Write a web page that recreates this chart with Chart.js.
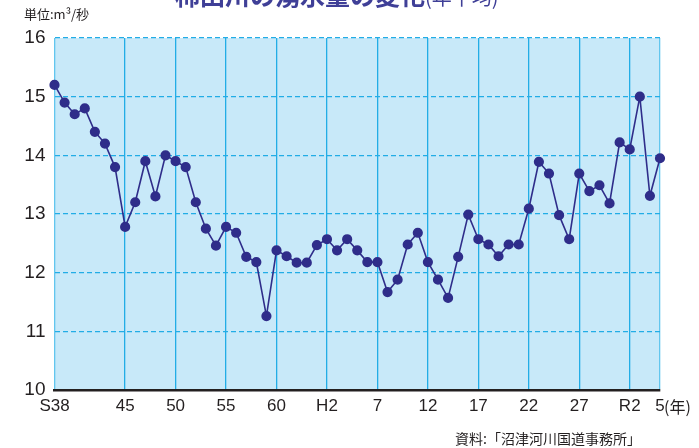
<!DOCTYPE html>
<html>
<head>
<meta charset="utf-8">
<script src="https://cdn.jsdelivr.net/npm/chart.js@4"></script>
<style>
  html, body { margin: 0; padding: 0; background: #fff; }
  #wrap { width: 699px; height: 448px; position: relative; }
</style>
</head>
<body>
<div id="wrap"><canvas id="flow"></canvas></div>
<script>
// years S38 (1963) .. R5 (2023), annual mean spring flow (m3/s)
const years = [];
for (let y = 1963; y <= 2023; y++) years.push(y);

const flow = [
  15.2, 14.9, 14.7, 14.8, 14.4, 14.2, 13.8, 12.78, 13.2, 13.9,
  13.3, 14.0, 13.9, 13.8, 13.2, 12.75, 12.46, 12.78, 12.68, 12.27,
  12.18, 11.26, 12.38, 12.28, 12.17, 12.17, 12.47, 12.57, 12.38, 12.57,
  12.38, 12.18, 12.18, 11.67, 11.88, 12.48, 12.68, 12.18, 11.88, 11.57,
  12.27, 12.99, 12.57, 12.48, 12.28, 12.48, 12.48, 13.09, 13.89, 13.69,
  12.98, 12.57, 13.69, 13.39, 13.49, 13.18, 14.22, 14.1, 15.0, 13.31,
  13.95
];

// x tick positions (index from S38) and their labels
const tickIdx = [0, 7, 12, 17, 22, 27, 32, 37, 42, 47, 52, 57, 60];
const tickLabels = ['S38', '45', '50', '55', '60', 'H2', '7', '12', '17', '22', '27', 'R2', '5'];
const yTicks = [10, 11, 12, 13, 14, 15, 16];

const points = flow.map((v, i) => ({ x: i, y: v }));

const plotBg = {
  id: 'plotBg',
  beforeDraw(chart) {
    const { ctx, chartArea: a } = chart;
    ctx.save();
    ctx.fillStyle = '#c8e9f9';
    ctx.fillRect(a.left, a.top, a.right - a.left, a.bottom - a.top);
    ctx.restore();
  },
  afterDraw(chart) {
    const { ctx } = chart;
    ctx.save();
    // title, cut off by the top edge
    ctx.fillStyle = '#3f3f97';
    ctx.textBaseline = 'alphabetic';
    ctx.font = 'bold 25px "Noto Sans CJK JP"';
    ctx.fillText('柿田川の湧水量の変化', 175, 5);
    const w = ctx.measureText('柿田川の湧水量の変化').width;
    ctx.font = '20px "Noto Sans CJK JP"';
    ctx.fillText('(年平均)', 175 + w, 5);

    ctx.fillStyle = '#231f20';
    ctx.font = '13px "Noto Sans CJK JP"';
    ctx.fillText('単位:m³/秒', 24, 19);

    ctx.font = '16px "Noto Sans CJK JP"';
    ctx.fillText('(年)', 664, 413);

    ctx.font = '14px "Noto Sans CJK JP"';
    ctx.fillText('資料:「沼津河川国道事務所」', 455, 444);
    ctx.restore();
  }
};

new Chart(document.getElementById('flow'), {
  type: 'line',
  data: {
    datasets: [{
      data: points,
      borderColor: '#2f2d8a',
      borderWidth: 1.6,
      pointBackgroundColor: '#2f2d8a',
      pointBorderColor: '#2f2d8a',
      pointRadius: 4.3,
      tension: 0,
      clip: false
    }]
  },
  options: {
    responsive: true,
    maintainAspectRatio: false,
    animation: false,
    layout: { padding: { left: 0, right: 39, top: 38, bottom: 0 } },
    plugins: { legend: { display: false }, tooltip: { enabled: false } },
    scales: {
      x: {
        type: 'linear',
        min: 0,
        max: 60,
        afterBuildTicks(scale) {
          scale.ticks = tickIdx.map(v => ({ value: v }));
        },
        afterFit(scale) { scale.height = 58; },
        grid: {
          color: ctx => (ctx.tick && (ctx.tick.value === 0 || ctx.tick.value === 60)) ? '#62c6ee' : '#22ade6',
          lineWidth: 1.3,
          drawTicks: false
        },
        border: { display: true, color: '#231f20', width: 2.5 },
        ticks: {
          autoSkip: false,
          maxRotation: 0,
          padding: 6,
          color: '#231f20',
          font: { family: '"Liberation Sans Narrow", "Liberation Sans", Arial', size: 17 },
          callback: (v) => tickLabels[tickIdx.indexOf(v)]
        }
      },
      y: {
        min: 10,
        max: 16,
        afterBuildTicks(scale) {
          scale.ticks = yTicks.map(v => ({ value: v }));
        },
        afterFit(scale) { scale.width = 54.5; },
        grid: {
          color: ctx => (ctx.tick && ctx.tick.value === 10) ? 'rgba(0,0,0,0)' : '#22ade6',
          lineWidth: 1.3,
          drawTicks: false
        },
        border: { display: false, dash: [5, 3] },
        ticks: {
          padding: 9,
          color: '#231f20',
          font: { family: '"Liberation Sans Narrow", "Liberation Sans", Arial', size: 19 }
        }
      }
    }
  },
  plugins: [plotBg]
});
</script>
</body>
</html>
